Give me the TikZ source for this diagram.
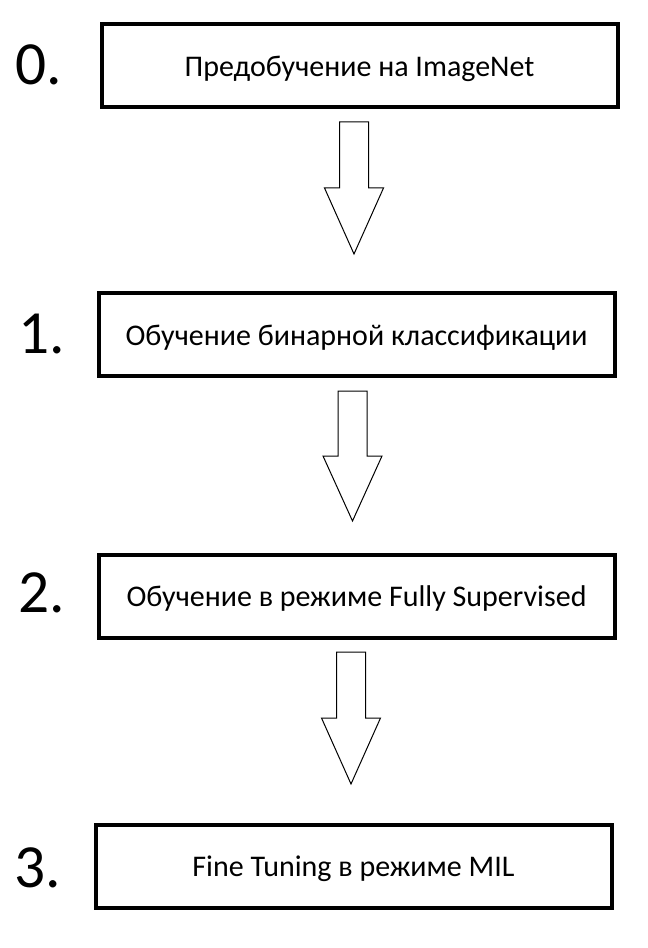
\documentclass[tikz,border=0pt]{standalone}
\usepackage{fontspec}
\setmainfont{Carlito}
\usetikzlibrary{positioning}

\begin{document}
\begin{tikzpicture}[x=0.75pt, y=-0.75pt,
        stage/.style={draw, line width=3pt, minimum width=387pt, minimum height=62.25pt,
                inner sep=0pt, font=\fontsize{22.5}{27}\selectfont, text height=16pt, text depth=0pt},
        stepnum/.style={anchor=base, inner sep=0pt, font=\fontsize{46}{50}\selectfont},
        blockarrow/.style={draw, line width=0.75pt, line join=miter}]
        \path[fill=white] (0, 0) rectangle (648, 948);
        \node[stage] (pretrain) at (359.5, 65.5) {Предобучение на ImageNet};
        \node[stage] (binary) at (356.5, 334.5) {Обучение бинарной классификации};
        \node[stage] (fullsup) at (356.5, 596) {Обучение в режиме Fully Supervised};
        \node[stage] (finetune) at (353.5, 866) {Fine Tuning в режиме MIL};
        \node[stepnum] (num0) at (39, 85) {0.};
        \node[stepnum] (num1) at (42, 353) {1.};
        \node[stepnum] (num2) at (42, 612) {2.};
        \node[stepnum] (num3) at (38, 887) {3.};
        \foreach \cx/\ya/\yb in {354/122/254, 352.5/391/521, 351/652/784} {
                \pgfmathsetmacro\ym{(\ya+\yb)/2}
                \draw[blockarrow] (\cx-14.5, \ya) -- (\cx+14.5, \ya) -- (\cx+14.5, \ym)
                        -- (\cx+29.5, \ym) -- (\cx, \yb) -- (\cx-29.5, \ym)
                        -- (\cx-14.5, \ym) -- cycle;
        }
\end{tikzpicture}
\end{document}
